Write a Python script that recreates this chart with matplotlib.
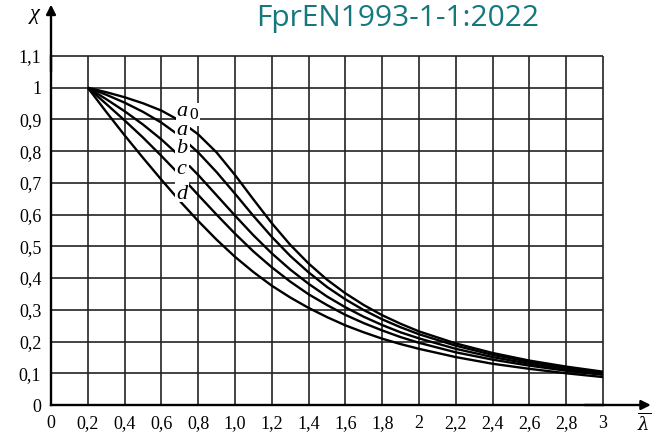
import matplotlib
matplotlib.use("Agg")
import matplotlib.pyplot as plt
from matplotlib.patches import Rectangle

# slenderness values and buckling reduction factors
lam = [0.2, 0.3, 0.4, 0.5, 0.6, 0.7, 0.8, 0.9, 1.0, 1.1, 1.2, 1.3, 1.4, 1.5,
       1.6, 1.7, 1.8, 1.9, 2.0, 2.2, 2.4, 2.6, 2.8, 3.0]
chi_a0 = [1.0, 0.986, 0.970, 0.951, 0.928, 0.896, 0.853, 0.796, 0.725, 0.648,
          0.573, 0.505, 0.446, 0.395, 0.352, 0.315, 0.283, 0.256, 0.232, 0.194,
          0.164, 0.140, 0.121, 0.105]
chi_a = [1.0, 0.978, 0.953, 0.924, 0.890, 0.848, 0.796, 0.734, 0.666, 0.596,
         0.530, 0.470, 0.418, 0.372, 0.333, 0.299, 0.270, 0.245, 0.223, 0.187,
         0.158, 0.136, 0.117, 0.102]
chi_b = [1.0, 0.964, 0.926, 0.884, 0.837, 0.784, 0.725, 0.661, 0.597, 0.535,
         0.478, 0.427, 0.382, 0.342, 0.308, 0.278, 0.252, 0.229, 0.210, 0.177,
         0.151, 0.130, 0.112, 0.098]
chi_c = [1.0, 0.949, 0.897, 0.843, 0.785, 0.725, 0.662, 0.600, 0.540, 0.484,
         0.434, 0.389, 0.349, 0.315, 0.284, 0.258, 0.235, 0.214, 0.196, 0.166,
         0.143, 0.124, 0.108, 0.095]
chi_d = [1.0, 0.924, 0.850, 0.779, 0.710, 0.643, 0.580, 0.521, 0.467, 0.419,
         0.376, 0.339, 0.306, 0.277, 0.251, 0.229, 0.209, 0.192, 0.177, 0.151,
         0.130, 0.114, 0.100, 0.088]

curves = {"a0": chi_a0, "a": chi_a, "b": chi_b, "c": chi_c, "d": chi_d}
label_pos = {"a0": (0.713, 0.925), "a": (0.712, 0.866), "b": (0.712, 0.808),
             "c": (0.708, 0.743), "d": (0.712, 0.664)}
# white masks behind the curve labels: (x0, y0, width, height)
label_gap = {"a0": (0.68, 0.878, 0.13, 0.075), "a": (0.675, 0.815, 0.08, 0.075),
             "b": (0.675, 0.755, 0.08, 0.075), "c": (0.675, 0.69, 0.075, 0.075),
             "d": (0.675, 0.64, 0.07, 0.05)}

xticks = [0, 0.2, 0.4, 0.6, 0.8, 1.0, 1.2, 1.4, 1.6, 1.8, 2.0, 2.2, 2.4,
          2.6, 2.8, 3.0]
xlabels = ["0", "0,2", "0,4", "0,6", "0,8", "1,0", "1,2", "1,4", "1,6", "1,8",
           "2", "2,2", "2,4", "2,6", "2,8", "3"]
yticks = [0, 0.1, 0.2, 0.3, 0.4, 0.5, 0.6, 0.7, 0.8, 0.9, 1.0, 1.1]
ylabels = ["0", "0,1", "0,2", "0,3", "0,4", "0,5", "0,6", "0,7", "0,8", "0,9",
           "1", "1,1"]

fig = plt.figure(figsize=(6.64, 4.33), dpi=100)
ax = fig.add_axes([51 / 664, 28 / 433, 552 / 664, 349 / 433])
ax.set_xlim(0, 3.0)
ax.set_ylim(0, 1.1)

grid_c = "#222222"
ax.vlines(xticks[1:], 0, 1.1, colors=grid_c, lw=1.2, clip_on=False, zorder=1)
ax.hlines(yticks[1:], 0, 3.0, colors=grid_c, lw=1.2, clip_on=False, zorder=1)

for name, chi in curves.items():
    ax.plot(lam, chi, color="black", lw=1.7, zorder=2, solid_capstyle="butt")

serif = "Liberation Serif"
for name, (x, y) in label_pos.items():
    ax.add_patch(Rectangle(label_gap[name][:2], *label_gap[name][2:],
                           facecolor="white", edgecolor="none", zorder=3))
    if name == "a0":
        ax.text(x, y, "a", family=serif, style="italic", fontsize=16,
                ha="center", va="center", zorder=4)
        ax.text(x + 0.062, y - 0.012, "0", family=serif, fontsize=12.5,
                ha="center", va="center", zorder=4)
    else:
        ax.text(x, y, name, family=serif, style="italic", fontsize=16,
                ha="center", va="center", zorder=4)

for s in ["top", "right"]:
    ax.spines[s].set_visible(False)
for s in ["left", "bottom"]:
    ax.spines[s].set_linewidth(1.7)
    ax.spines[s].set_zorder(5)

ax.annotate("", xy=(3.26, 0), xytext=(2.9, 0), annotation_clip=False,
            arrowprops=dict(arrowstyle="-|>", lw=1.7, color="black",
                            mutation_scale=14, shrinkA=0, shrinkB=0))
ax.annotate("", xy=(0, 1.262), xytext=(0, 1.05), annotation_clip=False,
            arrowprops=dict(arrowstyle="-|>", lw=1.7, color="black",
                            mutation_scale=14, shrinkA=0, shrinkB=0))

ax.set_xticks(xticks, xlabels)
ax.set_yticks(yticks, ylabels)
ax.tick_params(length=0, pad=7, labelsize=13)
for t in ax.get_xticklabels() + ax.get_yticklabels():
    t.set_family(serif)

ax.text(-0.087, 1.23, "χ", family=serif, style="italic", fontsize=16,
        ha="center", va="center")
ax.text(3.225, -0.08, r"$\overline{\lambda}$", fontsize=13,
        ha="center", va="baseline", math_fontfamily="dejavuserif")

fig.text(0.599, 0.957, "FprEN1993-1-1:2022", family="Open Sans",
         fontsize=21.5, color="#15787f", ha="center", va="center")

fig.savefig("out.png", dpi=100)
